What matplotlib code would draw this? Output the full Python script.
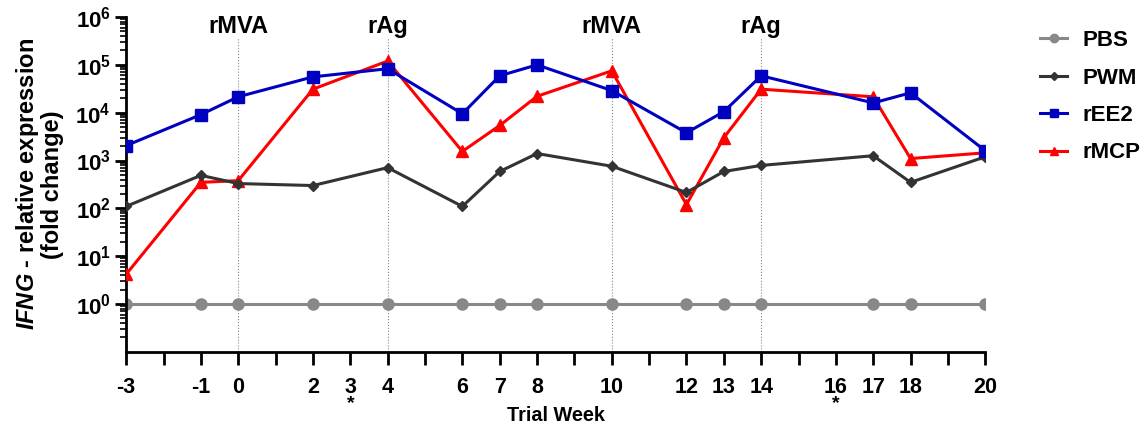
import matplotlib
matplotlib.use("Agg")
import matplotlib.pyplot as plt
from matplotlib.ticker import LogLocator, NullFormatter

plt.rcParams['font.family'] = ['Liberation Sans', 'DejaVu Sans']
plt.rcParams['font.weight'] = 'bold'
plt.rcParams['mathtext.fontset'] = 'custom'
plt.rcParams['mathtext.rm'] = 'Liberation Sans:bold'
plt.rcParams['mathtext.bf'] = 'Liberation Sans:bold'
plt.rcParams['mathtext.bfit'] = 'Liberation Sans:italic:bold'

# trial weeks with samples
weeks = [-3, -1, 0, 2, 4, 6, 7, 8, 10, 12, 13, 14, 17, 18, 20]

pbs = [1, 1, 1, 1, 1, 1, 1, 1, 1, 1, 1, 1, 1, 1, 1]
pwm = [110, 490, 330, 300, 710, 110, 590, 1400, 760, 215, 590, 790, 1260, 350, 1200]
ree2 = [2050, 9100, 21500, 56000, 83000, 9500, 59000, 100000, 29000, 3800, 10500, 59000, 16000, 26000, 1600]
rmcp = [4.2, 350, 380, 31000, 120000, 1550, 5400, 22000, 75000, 120, 3000, 31000, 21500, 1100, 1450]

labeled_weeks = [-3, -1, 0, 2, 3, 4, 6, 7, 8, 10, 12, 13, 14, 16, 17, 18, 20]
star_weeks = [3, 16]
events = [(0, 'rMVA'), (4, 'rAg'), (10, 'rMVA'), (14, 'rAg')]


def main():
    fig = plt.figure(figsize=(11.47, 4.25), dpi=100)
    ax = fig.add_axes([0.110, 0.172, 0.749, 0.788])

    for wk, name in events:
        ax.axvline(wk, color='#888888', lw=0.8, ls=':', zorder=0)
        ax.text(wk, 0.973, name, transform=ax.get_xaxis_transform(),
                ha='center', va='center', fontsize=17, fontweight='bold',
                bbox=dict(facecolor='white', edgecolor='none', pad=1), zorder=1)

    ax.plot(weeks, pbs, color='#888888', lw=2.2, marker='o', ms=8, label='PBS', zorder=2)
    ax.plot(weeks, rmcp, color='#ff0000', lw=2.2, marker='^', ms=8, label='rMCP', zorder=3)
    ax.plot(weeks, pwm, color='#333333', lw=2.2, marker='D', ms=5, label='PWM', zorder=4)
    ax.plot(weeks, ree2, color='#0000c0', lw=2.2, marker='s', ms=8, label='rEE2', zorder=5)

    ax.set_yscale('log')
    ax.set_ylim(1e-1, 1e6)
    ax.set_xlim(-3, 20)
    ax.set_yticks([10.0 ** k for k in range(0, 7)])
    ax.set_yticklabels([r'$10^{%d}$' % k for k in range(0, 7)], fontsize=16)
    ax.yaxis.set_minor_locator(LogLocator(base=10, subs=range(2, 10), numticks=20))
    ax.yaxis.set_minor_formatter(NullFormatter())

    ax.set_xticks(range(-3, 21))
    ax.set_xticklabels([str(w) if w in labeled_weeks else '' for w in range(-3, 21)],
                       fontsize=15.5, fontweight='bold')
    for w in star_weeks:
        ax.text(w, -0.167, '*', transform=ax.get_xaxis_transform(),
                ha='center', va='baseline', fontsize=14, fontweight='bold')

    for side in ['top', 'right']:
        ax.spines[side].set_visible(False)
    for side in ['left', 'bottom']:
        ax.spines[side].set_linewidth(2)
    ax.tick_params(axis='x', which='major', length=9, width=2, pad=9)
    ax.tick_params(axis='y', which='major', length=8, width=2, pad=3)
    ax.tick_params(axis='y', which='minor', length=4, width=1.2)

    ax.set_ylabel(r'$\mathbfit{IFNG}$ - relative expression' + '\n(fold change)',
                  fontsize=17, fontweight='bold', labelpad=8, linespacing=1.0)
    ax.set_xlabel('Trial Week', fontsize=14.3, fontweight='bold', labelpad=6)

    h, l = ax.get_legend_handles_labels()
    order = [l.index(n) for n in ['PBS', 'PWM', 'rEE2', 'rMCP']]
    leg = ax.legend([h[i] for i in order], [l[i] for i in order],
                    loc='upper left', bbox_to_anchor=(1.064, 0.961), frameon=False,
                    borderaxespad=0, borderpad=0,
                    fontsize=16, handlelength=1.2, labelspacing=0.74, handletextpad=0.7,
                    markerscale=0.75)
    for t in leg.get_texts():
        t.set_fontweight('bold')

    fig.savefig('out.png', dpi=100)


if __name__ == "__main__":
    main()
